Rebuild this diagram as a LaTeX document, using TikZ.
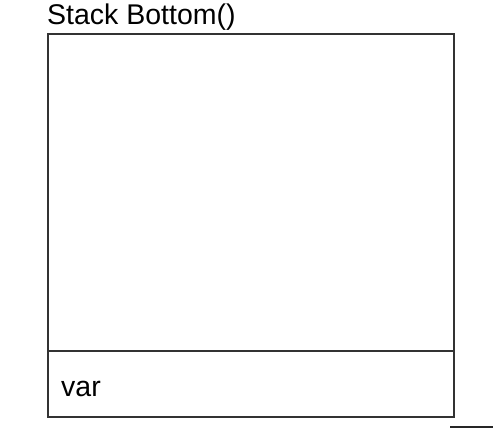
\documentclass[tikz,border=0pt]{standalone}
\usepackage{fontspec}
\setmainfont{Liberation Sans}
\begin{document}
\begin{tikzpicture}[x=1pt,y=-1pt,
  lbl/.style={font=\fontsize{28.5}{32}\selectfont, inner sep=0pt, anchor=base west, text=black},
  frame/.style={draw=black!80, line width=2pt}]
\useasboundingbox (0,0) rectangle (493,428);
\node[lbl] (title) at (47,25) {Stack Bottom()};
\draw[frame] (48,34) rectangle (454,417);
\coordinate (dl) at (48,351);
\coordinate (dr) at (454,351);
\draw[frame] (dl) -- (dr);
\node[lbl] (var) at (61,396) {var};
\coordinate (ca) at (450,427);
\coordinate (cb) at (493,427);
\draw[frame, black!85] (ca) -- (cb);
\end{tikzpicture}
\end{document}
